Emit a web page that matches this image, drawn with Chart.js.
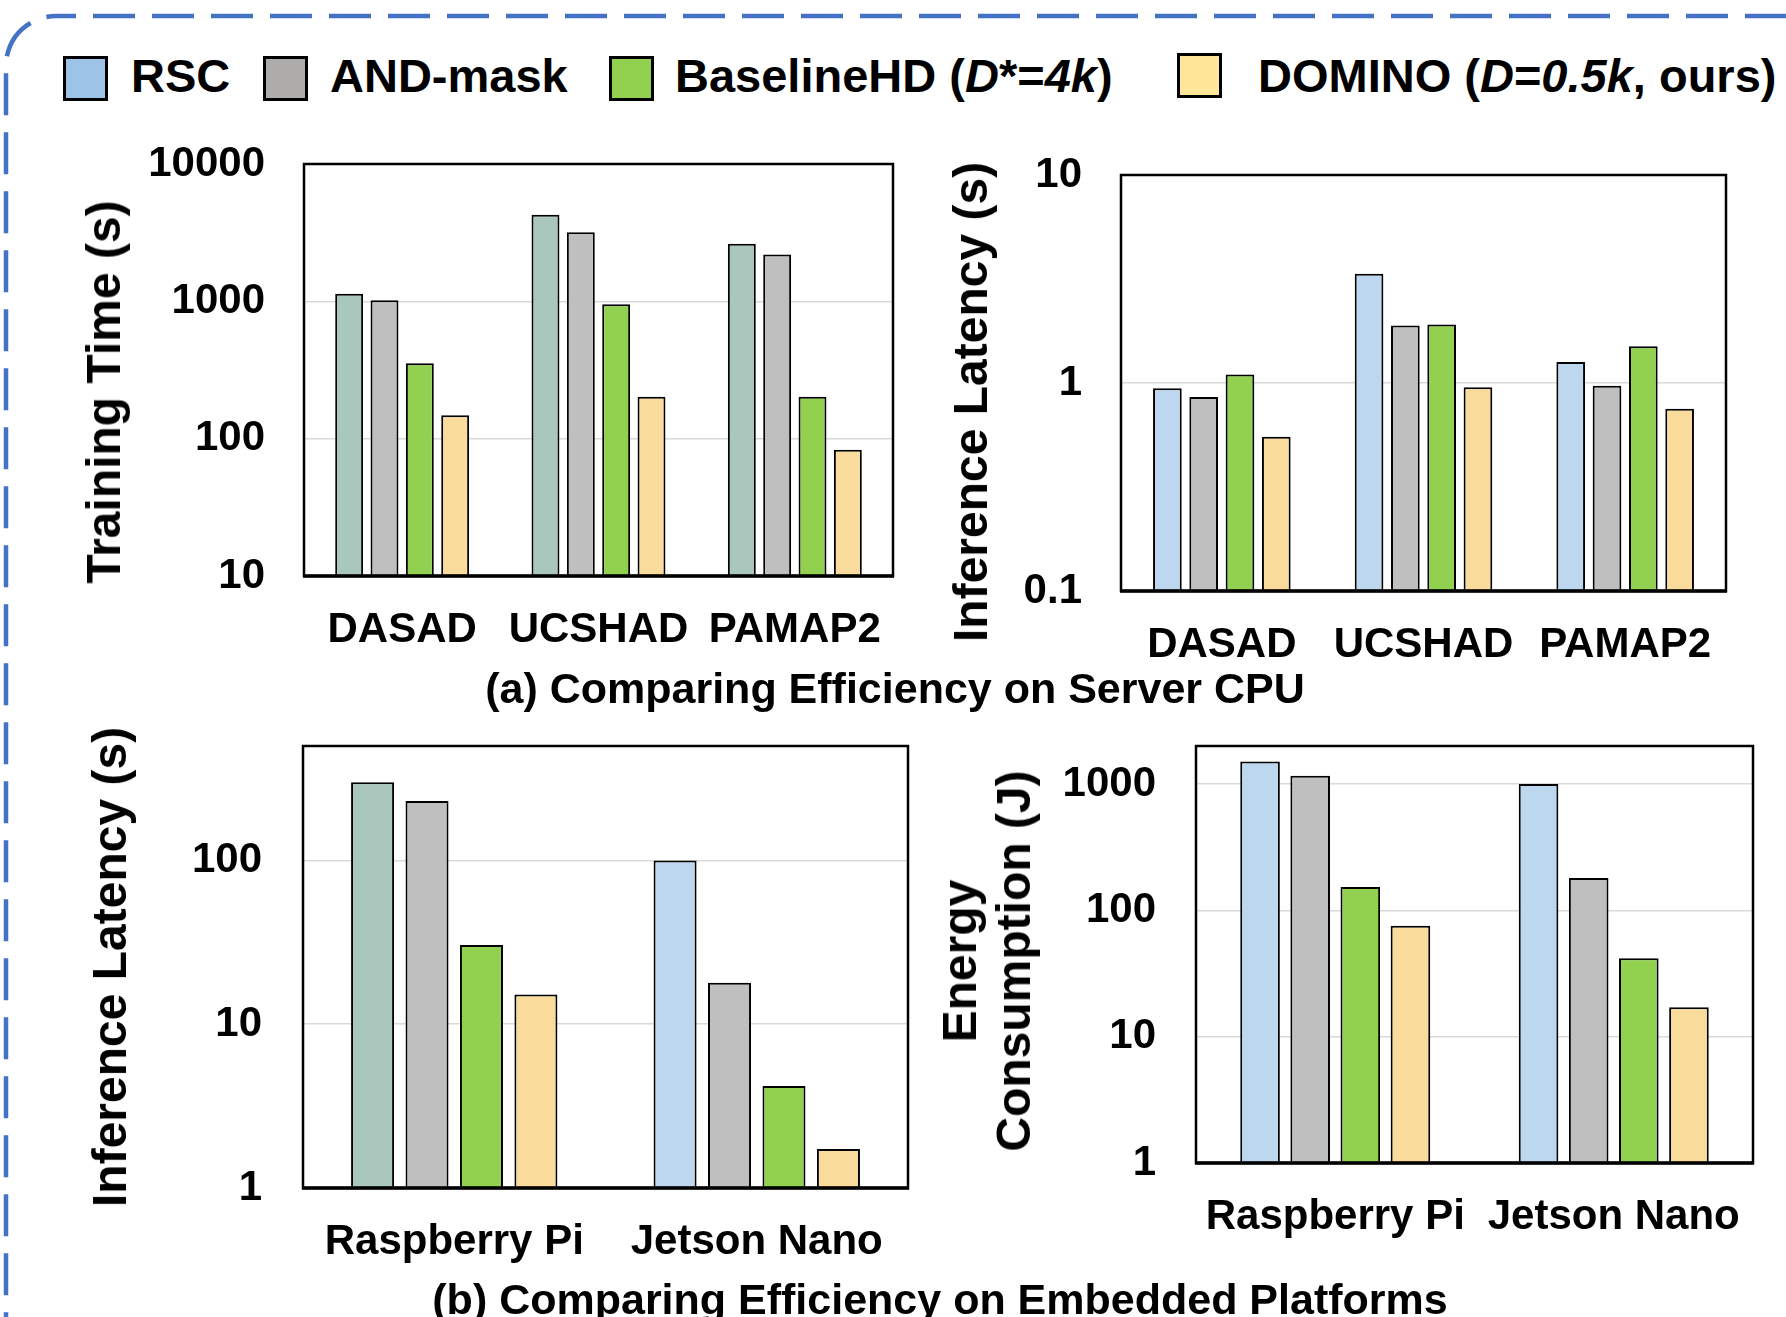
<!DOCTYPE html>
<html>
<head>
<meta charset="utf-8">
<title>DOMINO efficiency comparison</title>
<script src="https://cdn.jsdelivr.net/npm/chart.js@4.4.1/dist/chart.umd.min.js"></script>
<style>
    body {
        margin: 0;
        width: 1786px;
        height: 1317px;
        overflow: hidden;
        background: #fff;
        position: relative;
        font-family: 'Liberation Sans', Arial, sans-serif;
        font-weight: bold;
        color: #000;
    }
    canvas { position: absolute; }
    .legend-box {
        position: absolute;
        width: 39px;
        height: 39px;
        border: 3px solid #000;
    }
    .legend-text {
        position: absolute;
        font-size: 47px;
        line-height: 47px;
        white-space: nowrap;
    }
    .axis-title {
        position: absolute;
        font-size: 48px;
        line-height: 48px;
        white-space: nowrap;
        text-align: center;
        transform: translate(-50%, -50%) rotate(-90deg);
    }
    .caption {
        position: absolute;
        font-size: 43px;
        line-height: 43px;
        white-space: nowrap;
        transform: translate(-50%, -50%);
    }
</style>
</head>
<body>
<svg width="1786" height="1317" style="position:absolute;left:0;top:0">
    <rect x="6" y="16" width="1900" height="1500" rx="50" ry="50"
          fill="none" stroke="#4472C4" stroke-width="4.5"
          stroke-dasharray="42 17" stroke-dashoffset="22"/>
</svg>

<div id="legend"></div>

<canvas id="cpuTrain"></canvas>
<canvas id="cpuInfer"></canvas>
<canvas id="edgeInfer"></canvas>
<canvas id="edgeEnergy"></canvas>

<div class="axis-title" style="left:104px;top:392px">Training Time (s)</div>
<div class="axis-title" style="left:971px;top:402px">Inference Latency (s)</div>
<div class="axis-title" style="left:110px;top:967px">Inference Latency (s)</div>
<div class="axis-title" style="left:987px;top:961px;line-height:54px">Energy<br>Consumption (J)</div>

<div class="caption" style="left:895px;top:688px">(a) Comparing Efficiency on Server CPU</div>
<div class="caption" style="left:940px;top:1299px">(b) Comparing Efficiency on Embedded Platforms</div>

<script>
// Methods compared in every panel
const methods = ['RSC', 'AND-mask', 'BaselineHD (D*=4k)', 'DOMINO (D=0.5k, ours)'];
const methodsHtml = ['RSC', 'AND-mask', 'BaselineHD (<i>D</i>*=<i>4k</i>)', 'DOMINO (<i>D</i>=<i>0.5k</i>, ours)'];

// (a) server CPU
const cpuDatasets = ['DASAD', 'UCSHAD', 'PAMAP2'];

const cpuTrainRSC = [1135, 4270, 2630];
const cpuTrainAND = [1020, 3180, 2190];
const cpuTrainBaseline = [354, 953, 202];
const cpuTrainDomino = [148, 202, 83];
const cpuTrainTicks = [10, 100, 1000, 10000];
const cpuTrainRange = [10, 10000];

const cpuInferRSC = [0.943, 3.35, 1.26];
const cpuInferAND = [0.857, 1.89, 0.969];
const cpuInferBaseline = [1.10, 1.91, 1.50];
const cpuInferDomino = [0.551, 0.953, 0.753];
const cpuInferTicks = [0.1, 1, 10];
const cpuInferRange = [0.1, 10];

// (b) embedded platforms
const platforms = ['Raspberry Pi', 'Jetson Nano'];

const edgeInferRSC = [300, 100];
const edgeInferAND = [231, 17.9];
const edgeInferBaseline = [30.5, 4.2];
const edgeInferDomino = [15.2, 1.73];
const edgeInferTicks = [1, 10, 100];
const edgeInferRange = [1, 500];

const edgeEnergyRSC = [1506, 1000];
const edgeEnergyAND = [1163, 180];
const edgeEnergyBaseline = [153, 41.7];
const edgeEnergyDomino = [75.6, 17.1];
const edgeEnergyTicks = [1, 10, 100, 1000];
const edgeEnergyRange = [1, 2000];

// colours
const TEAL = '#AAC7BE';
const BLUE = '#BDD7EE';
const GRAY = '#BFBFBF';
const GREEN = '#92D050';
const GOLD = '#F9DC9C';
const legendFills = ['#9DC3E6', '#AEABAB', '#92D050', '#FFE699'];

// layout of the shared legend row
const legendBoxX = [63, 263, 609, 1177];
const legendBoxY = [56, 56, 56, 53];
const legendTextX = [131, 330, 675, 1258];

const AXIS_W = 180;
const AXIS_H = 90;
const PAD_T = 40;
const PAD_R = 40;
const FONT = "'Liberation Sans', Arial, sans-serif";

Chart.defaults.font.family = FONT;
Chart.defaults.color = '#000';

// Box around the plot area, heavier line along the bottom axis
const frame = {
    id: 'frame',
    afterDatasetsDraw(chart) {
        const { ctx, chartArea: { left, top, right, bottom } } = chart;
        ctx.save();
        ctx.strokeStyle = '#000';
        ctx.lineWidth = 2.5;
        ctx.strokeRect(left, top, right - left, bottom - top);
        ctx.lineWidth = 3.5;
        ctx.beginPath();
        ctx.moveTo(left - 1, bottom);
        ctx.lineTo(right + 1, bottom);
        ctx.stroke();
        ctx.restore();
    }
};

function barChart(id, box, labels, series, fills, ticks, range, tickPad) {
    const canvas = document.getElementById(id);
    const w = box.right - box.left + AXIS_W + PAD_R;
    const h = box.bottom - box.top + PAD_T + AXIS_H;
    canvas.width = w;
    canvas.height = h;
    canvas.style.left = (box.left - AXIS_W) + 'px';
    canvas.style.top = (box.top - PAD_T) + 'px';
    canvas.style.width = w + 'px';
    canvas.style.height = h + 'px';

    new Chart(canvas, {
        type: 'bar',
        data: {
            labels: labels,
            datasets: series.map((values, i) => ({
                label: methods[i],
                data: values,
                backgroundColor: fills[i],
                borderColor: '#000',
                borderWidth: 2,
                categoryPercentage: 0.72,
                barPercentage: 0.79
            }))
        },
        options: {
            responsive: false,
            animation: false,
            devicePixelRatio: 1,
            layout: { padding: { top: PAD_T, right: PAD_R, left: 0, bottom: 0 } },
            plugins: {
                legend: { display: false },
                tooltip: { enabled: false }
            },
            scales: {
                x: {
                    grid: { display: false },
                    border: { display: false },
                    ticks: {
                        font: { size: 42, weight: 'bold' },
                        padding: 21,
                        maxRotation: 0,
                        autoSkip: false
                    },
                    afterFit: scale => {
                        scale.height = AXIS_H;
                        scale.paddingLeft = 0;
                        scale.paddingRight = 0;
                    }
                },
                y: {
                    type: 'logarithmic',
                    min: range[0],
                    max: range[1],
                    afterBuildTicks: scale => {
                        scale.ticks = ticks.map(v => ({ value: v }));
                    },
                    ticks: {
                        font: { size: 42, weight: 'bold' },
                        padding: tickPad,
                        callback: v => String(v)
                    },
                    grid: { color: '#D9D9D9', lineWidth: 1.5, drawTicks: false },
                    border: { display: false },
                    // fixed axis size so the plot box lands where the canvas expects it
                    afterFit: scale => {
                        scale.width = AXIS_W;
                        scale.paddingTop = 0;
                        scale.paddingBottom = 0;
                    }
                }
            }
        },
        plugins: [frame]
    });
}

barChart('cpuTrain', { left: 304, top: 164, right: 893, bottom: 576 }, cpuDatasets,
    [cpuTrainRSC, cpuTrainAND, cpuTrainBaseline, cpuTrainDomino],
    [TEAL, GRAY, GREEN, GOLD], cpuTrainTicks, cpuTrainRange, 39);

barChart('cpuInfer', { left: 1121, top: 175, right: 1726, bottom: 591 }, cpuDatasets,
    [cpuInferRSC, cpuInferAND, cpuInferBaseline, cpuInferDomino],
    [BLUE, GRAY, GREEN, GOLD], cpuInferTicks, cpuInferRange, 39);

// Raspberry Pi RSC bar keeps the teal fill, Jetson Nano uses blue
barChart('edgeInfer', { left: 303, top: 746, right: 908, bottom: 1188 }, platforms,
    [edgeInferRSC, edgeInferAND, edgeInferBaseline, edgeInferDomino],
    [[TEAL, BLUE], GRAY, GREEN, GOLD], edgeInferTicks, edgeInferRange, 41);

barChart('edgeEnergy', { left: 1196, top: 746, right: 1753, bottom: 1163 }, platforms,
    [edgeEnergyRSC, edgeEnergyAND, edgeEnergyBaseline, edgeEnergyDomino],
    [BLUE, GRAY, GREEN, GOLD], edgeEnergyTicks, edgeEnergyRange, 40);

// Shared legend across the top
const legend = document.getElementById('legend');
methodsHtml.forEach((html, i) => {
    const box = document.createElement('div');
    box.className = 'legend-box';
    box.style.left = legendBoxX[i] + 'px';
    box.style.top = legendBoxY[i] + 'px';
    box.style.background = legendFills[i];
    legend.appendChild(box);

    const text = document.createElement('div');
    text.className = 'legend-text';
    text.style.left = legendTextX[i] + 'px';
    text.style.top = '52px';
    text.innerHTML = html;
    legend.appendChild(text);
});
</script>
</body>
</html>
